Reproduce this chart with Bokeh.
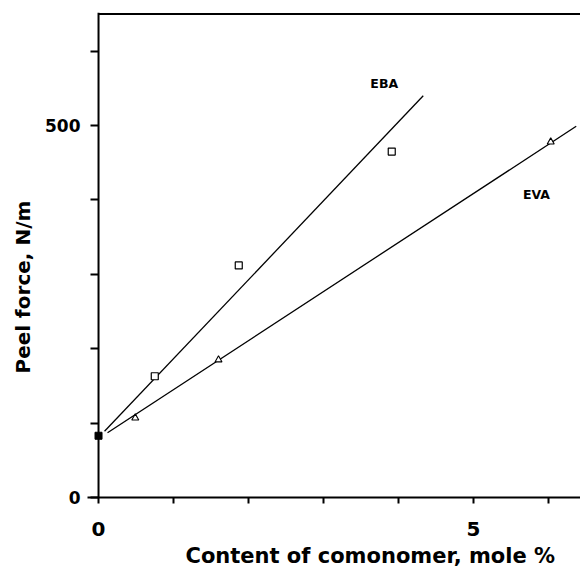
from bokeh.plotting import figure
from bokeh.models import Range1d, FixedTicker, Label, Span, Title
from bokeh.embed import file_html
from bokeh.resources import INLINE

# Measured peel force of the copolymer blends
base_x = [0.0]
base_y = [83]
eba_x = [0.75, 1.87, 3.91]
eba_y = [163, 312, 465]
eva_x = [0.49, 1.60, 6.03]
eva_y = [107, 185, 478]

# Straight-line fits drawn through each series
eba_fit_x = [0.08, 4.33]
eba_fit_y = [89, 540]
eva_fit_x = [0.12, 6.37]
eva_fit_y = [87, 499]

x_ticks = [0, 1, 2, 3, 4, 5, 6]
x_tick_labels = {0: "0", 5: "5"}
y_ticks = [0, 100, 200, 300, 400, 500, 600]
y_tick_labels = {0: "0", 500: "500"}

X_START, X_END = -0.147, 6.427
Y_START, Y_END = 0, 652
Y_TOP = 650

FONT = "DejaVu Sans"

p = figure(width=580, height=573, output_backend="svg", toolbar_location=None,
           x_range=Range1d(X_START, X_END), y_range=Range1d(Y_START, Y_END),
           min_border_left=87, min_border_right=0, min_border_top=12, min_border_bottom=76)
p.outline_line_color = None
p.grid.visible = False
p.background_fill_color = "white"
p.border_fill_color = "white"

# x axis
xa = p.xaxis[0]
xa.ticker = FixedTicker(ticks=x_ticks)
xa.major_label_overrides = {t: x_tick_labels.get(t, "") for t in x_ticks}
xa.major_tick_out = 6
xa.major_tick_in = 0
xa.minor_tick_out = 0
xa.minor_tick_in = 0
xa.axis_line_width = 2
xa.major_tick_line_width = 2
xa.major_label_standoff = 18
xa.major_label_text_font = FONT
xa.major_label_text_font_style = "bold"
xa.major_label_text_font_size = "20px"
xa.major_label_text_color = "black"

# y axis: its line is drawn at x = 0, the ticks reach back to it
ya = p.yaxis[0]
ya.ticker = FixedTicker(ticks=y_ticks)
ya.major_label_overrides = {t: y_tick_labels.get(t, "") for t in y_ticks}
ya.axis_line_color = None
ya.major_tick_in = 11
ya.major_tick_out = -3
ya.minor_tick_out = 0
ya.minor_tick_in = 0
ya.major_tick_line_width = 2
ya.major_label_standoff = 7
ya.major_label_text_font = FONT
ya.major_label_text_font_style = "bold"
ya.major_label_text_font_size = "17px"
ya.major_label_text_color = "black"
ya.major_label_orientation = "horizontal"
p.add_layout(Span(location=0, dimension="height", line_color="black", line_width=2))

# top border of the box
p.line([0, X_END], [Y_TOP, Y_TOP], line_color="black", line_width=2)

# fitted lines
p.line(eba_fit_x, eba_fit_y, line_color="black", line_width=1.3)
p.line(eva_fit_x, eva_fit_y, line_color="black", line_width=1.3)

# data points
p.scatter(eba_x, eba_y, marker="square", size=7, fill_color="white",
          line_color="black", line_width=1.2)
p.scatter(eva_x, eva_y, marker="triangle", size=7, fill_color="white",
          line_color="black", line_width=1.1)
p.scatter(base_x, base_y, marker="square", size=7, fill_color="black",
          line_color="black")

# series names
p.add_layout(Label(x=3.81, y=556, text="EBA", text_font=FONT, text_font_style="bold",
                   text_font_size="12.5px", text_color="black",
                   text_align="center", text_baseline="middle"))
p.add_layout(Label(x=5.84, y=407, text="EVA", text_font=FONT, text_font_style="bold",
                   text_font_size="12.5px", text_color="black",
                   text_align="center", text_baseline="middle"))

# axis titles
p.add_layout(Title(text="Peel force, N/m", align="left", offset=124, standoff=16,
                   text_font=FONT, text_font_style="bold", text_font_size="20px",
                   text_color="black"), "left")
p.add_layout(Title(text="Content  of  comonomer, mole %", align="left", offset=98,
                   standoff=7, text_font=FONT, text_font_style="bold",
                   text_font_size="21px", text_color="black"), "below")

open("out.html", "w").write(file_html(p, INLINE))
